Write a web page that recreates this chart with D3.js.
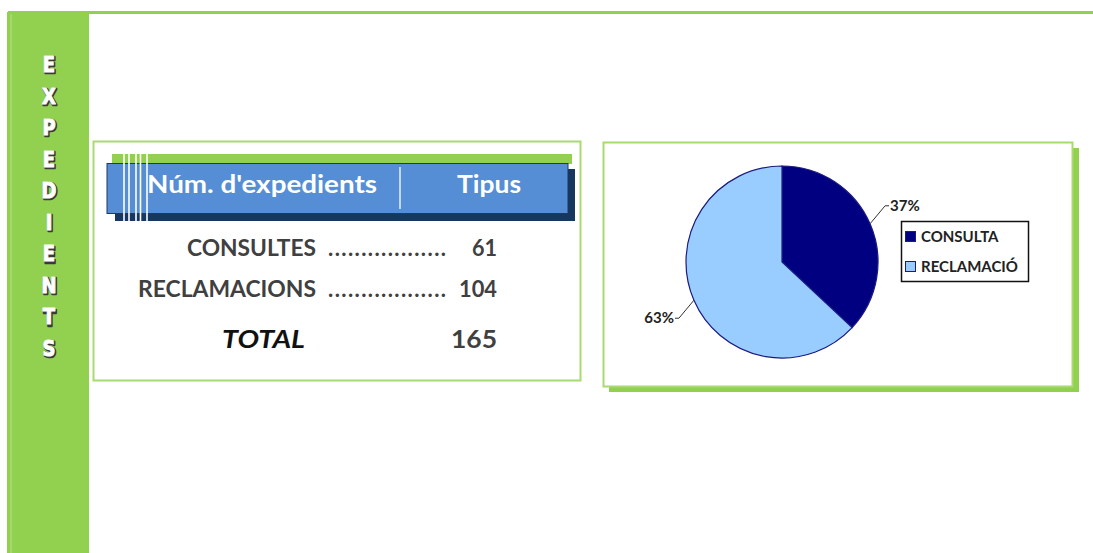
<!DOCTYPE html>
<html>
<head>
<meta charset="utf-8">
<script src="https://cdn.jsdelivr.net/npm/d3@7"></script>
<style>
  body { margin: 0; background: #fff; }
  svg { display: block; }
</style>
</head>
<body>
<div id="chart"></div>
<script>
// Data
var sideTitle = "EXPEDIENTS";
var headers = ["Núm. d'expedients", "Tipus"];
var rowLabels = ["CONSULTES", "RECLAMACIONS"];
var rowValues = [61, 104];
var totalLabel = "TOTAL";
var pieCategories = ["CONSULTA", "RECLAMACIÓ"];
var pieColors = ["#000080", "#99ccff"];

var W = 1093, H = 553;
var green = "#92d050";
var lightGreen = "#a9d971";
var textGrey = "#404040";

var svg = d3.select("#chart").append("svg")
  .attr("width", W)
  .attr("height", H);

// Top line and side bar
svg.append("rect").attr("x", 8).attr("y", 11).attr("width", W - 8).attr("height", 3).attr("fill", green);
svg.append("rect").attr("x", 7).attr("y", 12).attr("width", 82).attr("height", H - 12).attr("fill", green);
svg.append("line").attr("x1", 11).attr("x2", 11).attr("y1", 14).attr("y2", H)
  .attr("stroke", "#b5e08a").attr("stroke-width", 1);

// Vertical title letters
var letterY = d3.scaleLinear().domain([0, sideTitle.length - 1]).range([72, 356]);
var letters = svg.append("g").selectAll("g")
  .data(sideTitle.split(""))
  .enter()
  .append("g")
  .attr("transform", (d, i) => `translate(49,${letterY(i)}) scale(0.82,1)`);
letters.append("text")
  .attr("x", 1.2).attr("y", 1.2)
  .attr("text-anchor", "middle")
  .attr("font-family", "DejaVu Sans").attr("font-weight", "bold").attr("font-size", 22)
  .attr("fill", "#3a3a3a").attr("stroke", "#3a3a3a").attr("stroke-width", 2.5)
  .attr("stroke-linejoin", "round")
  .text(d => d);
letters.append("text")
  .attr("text-anchor", "middle")
  .attr("font-family", "DejaVu Sans").attr("font-weight", "bold").attr("font-size", 22)
  .attr("fill", "#fff").attr("stroke", "#fff").attr("stroke-width", 1)
  .attr("stroke-linejoin", "round")
  .text(d => d);

// ---- Table box ----
var tb = svg.append("g");
tb.append("rect").attr("x", 93.5).attr("y", 141.5).attr("width", 487).attr("height", 239)
  .attr("fill", "#fff").attr("stroke", lightGreen).attr("stroke-width", 2);

// header bar
tb.append("rect").attr("x", 112).attr("y", 154).attr("width", 460).attr("height", 10).attr("fill", green);
tb.append("rect").attr("x", 115).attr("y", 169).attr("width", 460).attr("height", 52).attr("fill", "#17375e");
tb.append("rect").attr("x", 107).attr("y", 163.5).attr("width", 461).attr("height", 50)
  .attr("fill", "#558ed5").attr("stroke", "#1f3864").attr("stroke-width", 1);
[124, 129, 136, 140.5, 147].forEach(function(x) {
  tb.append("line").attr("x1", x).attr("x2", x).attr("y1", 154).attr("y2", 221)
    .attr("stroke", "#fff").attr("stroke-width", 1.6);
});
tb.append("line").attr("x1", 400).attr("x2", 400).attr("y1", 167).attr("y2", 209)
  .attr("stroke", "#e6eef9").attr("stroke-width", 1.5);
tb.append("text").attr("x", 147).attr("y", 193)
  .attr("font-family", "Lato").attr("font-weight", "bold").attr("font-size", 24)
  .attr("textLength", 230).attr("lengthAdjust", "spacingAndGlyphs")
  .attr("fill", "#fff").text(headers[0]);
tb.append("text").attr("x", 457).attr("y", 193)
  .attr("font-family", "Lato").attr("font-weight", "bold").attr("font-size", 24)
  .attr("textLength", 64).attr("lengthAdjust", "spacingAndGlyphs")
  .attr("fill", "#fff").text(headers[1]);

// rows
var rowY = d3.scaleLinear().domain([0, 1]).range([256, 297]);
var labelW = [129, 178];
var valueW = [25, 38];
var rows = tb.append("g").selectAll("g")
  .data(rowLabels)
  .enter()
  .append("g");
rows.append("text")
  .attr("x", (d, i) => 316 - labelW[i]).attr("y", (d, i) => rowY(i))
  .attr("font-family", "Lato").attr("font-weight", "bold").attr("font-size", 22)
  .attr("textLength", (d, i) => labelW[i]).attr("lengthAdjust", "spacingAndGlyphs")
  .attr("fill", textGrey).text(d => d);
rows.append("text")
  .attr("x", 328).attr("y", (d, i) => rowY(i))
  .attr("font-family", "Lato").attr("font-weight", "bold").attr("font-size", 22)
  .attr("fill", textGrey).attr("textLength", 118).attr("lengthAdjust", "spacing")
  .text("..................");
rows.append("text")
  .attr("x", (d, i) => 497 - valueW[i]).attr("y", (d, i) => rowY(i))
  .attr("font-family", "Lato").attr("font-weight", "bold").attr("font-size", 22)
  .attr("textLength", (d, i) => valueW[i]).attr("lengthAdjust", "spacingAndGlyphs")
  .attr("fill", textGrey).text((d, i) => rowValues[i]);

tb.append("text").attr("x", 222).attr("y", 348)
  .attr("font-family", "Lato").attr("font-weight", "bold").attr("font-style", "italic")
  .attr("font-size", 24).attr("textLength", 83).attr("lengthAdjust", "spacingAndGlyphs")
  .attr("fill", "#111").text(totalLabel);
tb.append("text").attr("x", 451).attr("y", 348)
  .attr("font-family", "Lato").attr("font-weight", "bold")
  .attr("font-size", 24).attr("textLength", 46).attr("lengthAdjust", "spacingAndGlyphs")
  .attr("fill", textGrey).text(d3.sum(rowValues));

// ---- Pie box ----
var pb = svg.append("g");
pb.append("rect").attr("x", 609).attr("y", 148).attr("width", 470).attr("height", 244).attr("fill", green);
pb.append("rect").attr("x", 603.5).attr("y", 142.5).attr("width", 469).attr("height", 244)
  .attr("fill", "#fff").attr("stroke", lightGreen).attr("stroke-width", 2);

var cx = 782, cy = 262, r = 96;
var pie = d3.pie().sort(null).value(d => d);
var arcs = pie(rowValues);
var arc = d3.arc().innerRadius(0).outerRadius(r);
var total = d3.sum(rowValues);
var color = d3.scaleOrdinal().domain(pieCategories).range(pieColors);

var pg = pb.append("g").attr("transform", `translate(${cx},${cy})`);
pg.selectAll("path")
  .data(arcs)
  .enter()
  .append("path")
  .attr("d", arc)
  .attr("fill", (d, i) => color(pieCategories[i]))
  .attr("stroke", "#1a1a80")
  .attr("stroke-width", 1.2);

// leader lines and labels
arcs.forEach(function(d, i) {
  var a = (d.startAngle + d.endAngle) / 2;
  var sx = Math.sin(a), sy = -Math.cos(a);
  var p0 = [r * sx, r * sy];
  var dirX = sx >= 0 ? 1 : -1;
  var dirY = sy >= 0 ? 1 : -1;
  var p1 = [p0[0] + dirX * 15, p0[1] + dirY * 18];
  var p2 = [p1[0] + dirX * 4, p1[1]];
  pg.append("polyline")
    .attr("points", [p0, p1, p2].map(p => p.join(",")).join(" "))
    .attr("fill", "none").attr("stroke", "#333").attr("stroke-width", 1);
  pg.append("text")
    .attr("x", p2[0] + dirX * 1).attr("y", p2[1] + 5)
    .attr("text-anchor", dirX > 0 ? "start" : "end")
    .attr("font-family", "Lato").attr("font-weight", "bold").attr("font-size", 15)
    .attr("fill", "#222")
    .text(Math.round(d.value / total * 100) + "%");
});

// legend
var lg = pb.append("g");
lg.append("rect").attr("x", 901.5).attr("y", 221.5).attr("width", 127).attr("height", 60)
  .attr("fill", "#fff").attr("stroke", "#111").attr("stroke-width", 1.5);
var legY = d3.scaleLinear().domain([0, 1]).range([237, 267]);
var li = lg.selectAll("g.item")
  .data(pieCategories)
  .enter()
  .append("g").attr("class", "item");
li.append("rect")
  .attr("x", 905.5).attr("y", (d, i) => legY(i) - 5.5)
  .attr("width", 10).attr("height", 10)
  .attr("fill", d => color(d)).attr("stroke", "#1a1a80").attr("stroke-width", 1);
li.append("text")
  .attr("x", 921).attr("y", (d, i) => legY(i) + 5)
  .attr("font-family", "Lato").attr("font-weight", "bold").attr("font-size", 15)
  .attr("fill", "#222").text(d => d);
</script>
</body>
</html>
